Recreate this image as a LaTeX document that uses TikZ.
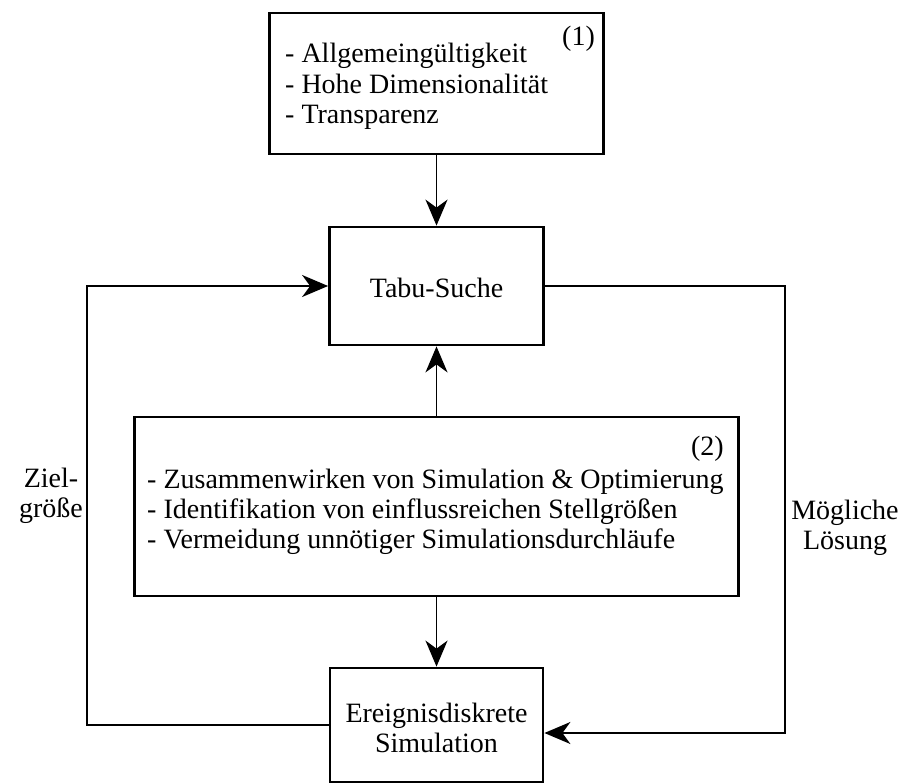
\documentclass[tikz,border=0pt]{standalone}
\usepackage{fontspec}
\setmainfont{Liberation Serif}
\usetikzlibrary{arrows.meta}
\begin{document}
\begin{tikzpicture}[x=1pt,y=-1pt,
  every node/.style={font=\fontsize{28pt}{30pt}\selectfont, inner sep=0pt},
  box/.style={draw, line width=2.8pt, rectangle, minimum width=#1},
  txt/.style={anchor=base west},
  ctxt/.style={anchor=base},
  conn/.style={line width=1.7pt, -{Stealth[length=26pt,width=22pt,inset=8pt]}}
]
\useasboundingbox (0,0) rectangle (905,784);

% boxes
\node[box=334pt, minimum height=141pt] (req) at (436.5,83.5) {};
\node[box=214pt, minimum height=118pt] (tabu) at (436.5,286) {};
\node[box=604pt, minimum height=179pt] (mid) at (436.5,506.5) {};
\node[box=213pt, minimum height=114pt] (sim) at (436.5,725) {};

% texts of the requirement box
\node[txt] (r1) at (285,63) {- Allgemeingültigkeit};
\node[txt] (r2) at (285,93) {- Hohe Dimensionalität};
\node[txt] (r3) at (285,123) {- Transparenz};
\node[txt] (rn) at (562,46) {(1)};

% tabu search
\node[ctxt] (tt) at (436.5,297) {Tabu-Suche};

% middle box
\node[anchor=base east] (mn) at (724,455) {(2)};
\node[txt] (m1) at (147,488) {- Zusammenwirken von Simulation \& Optimierung};
\node[txt] (m2) at (147,518) {- Identifikation von einflussreichen Stellgrößen};
\node[txt] (m3) at (147,548) {- Vermeidung unnötiger Simulationsdurchläufe};

% simulation box
\node[ctxt] (s1) at (436.5,722) {Ereignisdiskrete};
\node[ctxt] (s2) at (436.5,752) {Simulation};

% side labels
\node[ctxt] (z1) at (51,487) {Ziel-};
\node[ctxt] (z2) at (51,517) {größe};
\node[ctxt] (l1) at (845,519) {Mögliche};
\node[ctxt] (l2) at (845,549) {Lösung};

% helper coordinates for the feedback loops
\coordinate (lx) at (87,0);
\coordinate (rx) at (785,0);
\coordinate (simin) at ([yshift=-8pt]sim.east);

% connectors
\draw[conn] (req.south) -- (tabu.north);
\draw[conn] (mid.north) -- (tabu.south);
\draw[conn] (mid.south) -- (sim.north);
\draw[conn] (sim.west) -- (sim.west -| lx) |- (tabu.west);
\draw[conn] (tabu.east) -- (tabu.east -| rx) |- (simin);
\end{tikzpicture}
\end{document}
